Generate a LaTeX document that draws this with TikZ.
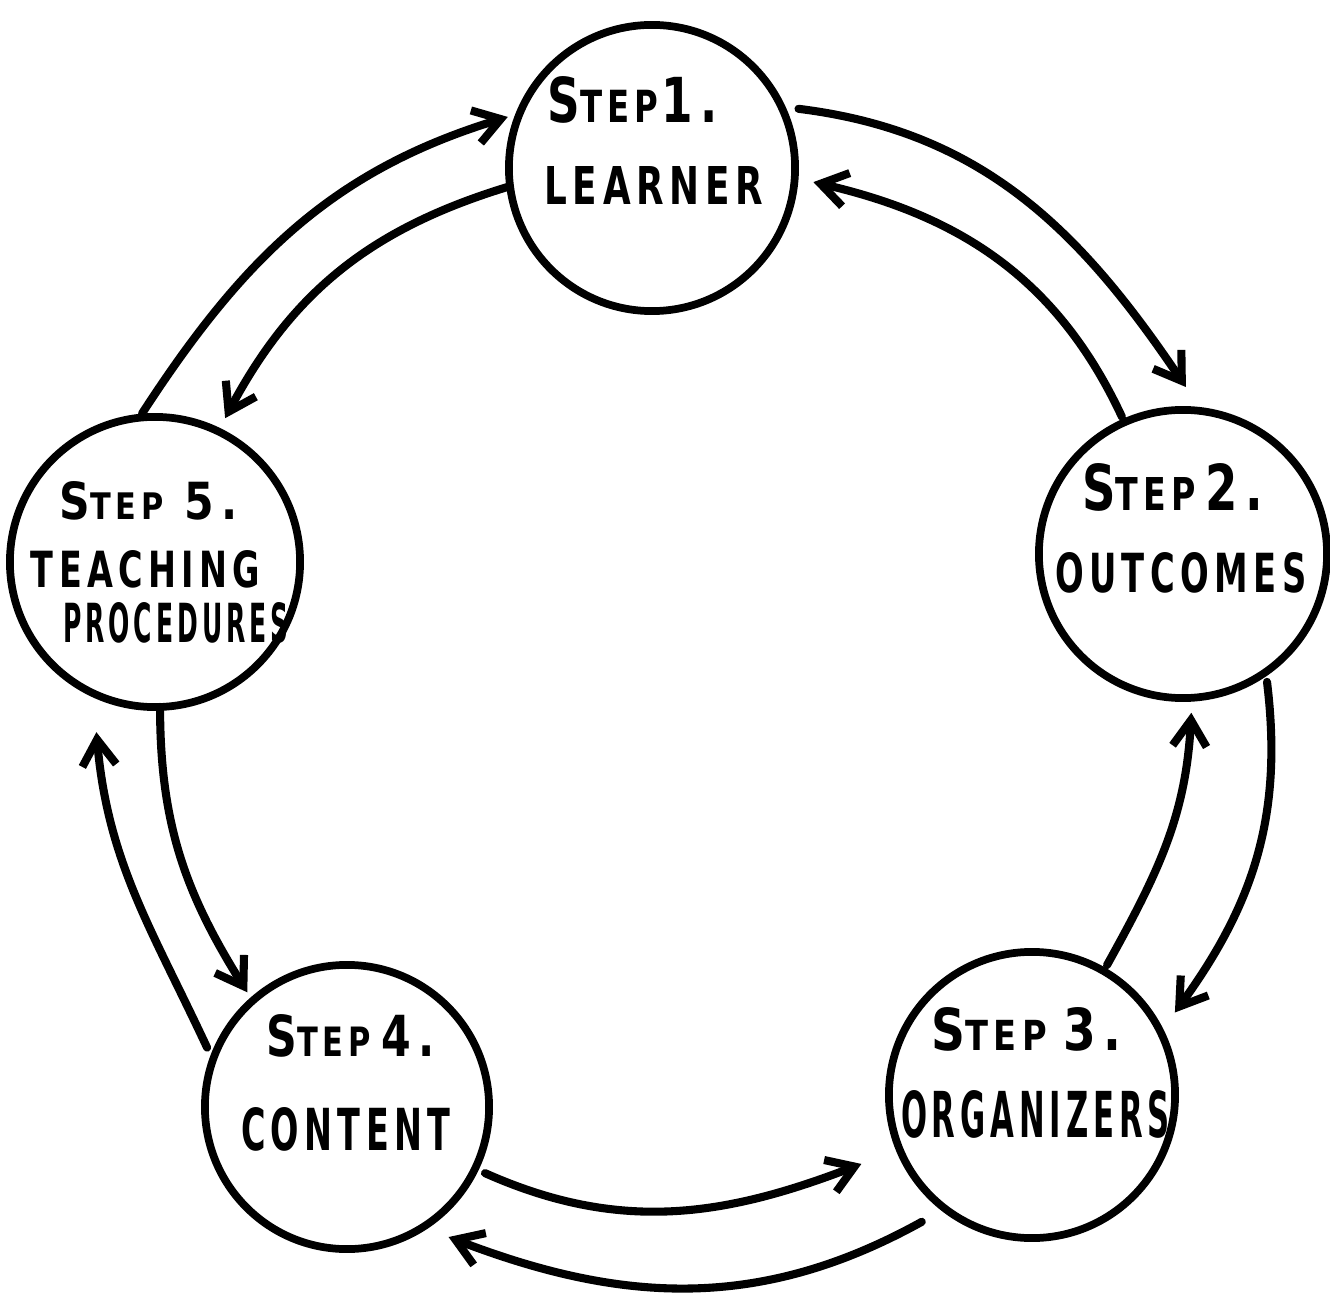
\documentclass[tikz,border=0pt]{standalone}
\usepackage{fontspec}
\setmainfont{DejaVu Sans}
\newfontfamily\handfont[LetterSpace=16]{DejaVu Sans}
\usepackage{graphicx}
\usetikzlibrary{arrows.meta,calc}
\newlength\pxu
\setlength\pxu{0.01cm}
\newcommand\hw[3]{\resizebox{#1\pxu}{#2\pxu}{\handfont\bfseries #3\kern-0.16em}}
\newcommand\stp[2]{{\fontsize{14}{14}\selectfont S}TEP\hspace{#1em}{\fontsize{14}{14}\selectfont #2}}
\tikzset{
  stepcircle/.style={circle, draw, line width=2.2pt, minimum size=2.86cm, inner sep=0pt, outer sep=0pt},
  flow/.style={line width=2.3pt, line cap=round, -{Straight Barb[length=0.26cm,width=0.34cm]}},
  lbl/.style={inner sep=0pt, outer sep=0pt, anchor=center}
}
\begin{document}
\begin{tikzpicture}[x=0.01cm, y=0.01cm]
\useasboundingbox (0,0) rectangle (1330,1296);
% circles
\node[stepcircle, minimum size=2.86cm] (s1) at (652,1128) {};
\node[stepcircle, minimum size=2.88cm] (s2) at (1183,742) {};
\node[stepcircle, minimum size=2.86cm] (s3) at (1032,201) {};
\node[stepcircle, minimum size=2.84cm] (s4) at (347,189) {};
\node[stepcircle, minimum size=2.90cm] (s5) at (155,734) {};
% labels
\node[lbl] (t1a) at (630,1196) {\hw{165}{46}{\stp{0.1}{1.}}};
\node[lbl] (t1b) at (651,1110) {\hw{213}{38}{LEARNER}};
\node[lbl] (t2a) at (1170,809) {\hw{176}{47}{\stp{0.3}{2.}}};
\node[lbl] (t2b) at (1178,723) {\hw{246}{40}{OUTCOMES}};
\node[lbl] (t3a) at (1024,267) {\hw{185}{43}{\stp{0.5}{3.}}};
\node[lbl] (t3b) at (1033,182) {\hw{264}{47}{ORGANIZERS}};
\node[lbl] (t4a) at (348,260) {\hw{163}{42}{\stp{0.35}{4.}}};
\node[lbl] (t4b) at (343,167) {\hw{204}{43}{CONTENT}};
\node[lbl] (t5a) at (146,795) {\hw{173}{38}{\stp{0.7}{5.}}};
\node[lbl] (t5b) at (143,727) {\hw{224}{37}{TEACHING}};
\node[lbl] (t5c) at (174,673) {\hw{222}{40}{PROCEDURES}};
% connectors
\draw[flow] ($(s5)+(95:149)$) to[out=57, in=197] ($(s1)+(160.5:153)$);
\draw[flow] ($(s1)+(187.5:146)$) to[out=197, in=62] ($(s5)+(64:160)$);
\draw[flow] ($(s1)+(22:158)$) to[out=-7, in=124] ($(s2)+(89:167)$);
\draw[flow] ($(s2)+(114:150)$) to[out=115, in=-13] ($(s1)+(-5:162)$);
\draw[flow] ($(s2)+(-56.7:153)$) to[out=-83, in=54] ($(s3)+(30:165)$);
\draw[flow] ($(s3)+(60:150)$) to[out=61, in=267] ($(s2)+(-87:159)$);
\draw[flow] ($(s5)+(-88:145)$) to[out=-90, in=122] ($(s4)+(131:152)$);
\draw[flow] ($(s4)+(157:152)$) to[out=115, in=275] ($(s5)+(251:180)$);
\draw[flow] ($(s4)+(-25.6:153)$) to[out=-24, in=201] ($(s3)+(202:184)$);
\draw[flow] ($(s3)+(229:168)$) to[out=209, in=339] ($(s4)+(-52:165)$);
\end{tikzpicture}
\end{document}
